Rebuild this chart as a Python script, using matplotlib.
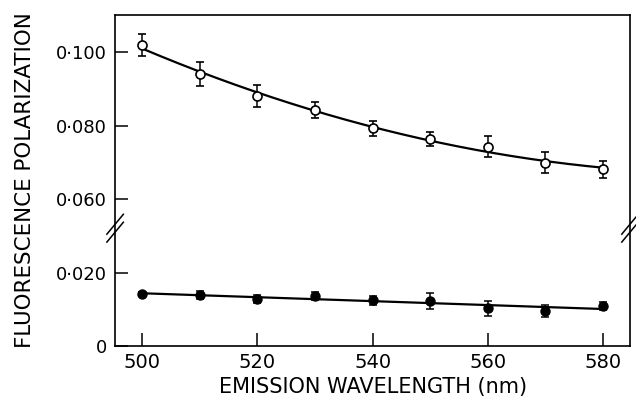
import numpy as np
import matplotlib.pyplot as plt

# emission wavelengths (nm)
wavelength = [500, 510, 520, 530, 540, 550, 560, 570, 580]

# open circles: upper series
pol_open = [0.1020, 0.0941, 0.0881, 0.0843, 0.0793, 0.0763, 0.0743, 0.0700, 0.0681]
err_open = [0.0030, 0.0032, 0.0030, 0.0022, 0.0020, 0.0019, 0.0028, 0.0029, 0.0023]

# filled circles: lower series
pol_filled = [0.0142, 0.0139, 0.0127, 0.0136, 0.0125, 0.0123, 0.0103, 0.0096, 0.0109]
err_filled = [0.0004, 0.0012, 0.0011, 0.0011, 0.0012, 0.0021, 0.0020, 0.0017, 0.0010]

ytick_vals = [0.0, 0.020, 0.060, 0.080, 0.100]
ytick_labels = ['0', '0·020', '0·060', '0·080', '0·100']

# the axis is broken between 0.020 and 0.060: upper values are shifted down
GAP = 0.020

def axis_y(v):
    v = np.asarray(v, dtype=float)
    return np.where(v >= 0.05, v - GAP, v)

plt.rcParams['font.family'] = 'DejaVu Sans'
fig = plt.figure(figsize=(6.36, 3.98), dpi=100)
ax = fig.add_axes([0.181, 0.1307, 0.8096, 0.8316])

x = np.array(wavelength, dtype=float)
xs = np.linspace(500, 580, 200)

# fitted curves
c2 = np.polyfit(x, pol_open, 2)
ax.plot(xs, axis_y(np.polyval(c2, xs)), color='black', lw=1.6, zorder=2)
c1 = np.polyfit(x, pol_filled, 1)
ax.plot(xs, axis_y(np.polyval(c1, xs)), color='black', lw=1.6, zorder=2)

ax.errorbar(x, axis_y(pol_open), yerr=err_open, fmt='o', ms=6.5,
            mfc='white', mec='black', mew=1.2, ecolor='black', elinewidth=1.1,
            capsize=2.6, capthick=1.1, zorder=3)
ax.errorbar(x, axis_y(pol_filled), yerr=err_filled, fmt='o', ms=6.5,
            mfc='black', mec='black', ecolor='black', elinewidth=1.1,
            capsize=2.6, capthick=1.1, zorder=3)

ax.set_xlim(495.3, 584.7)
ax.set_ylim(0, 0.0902)
ax.set_xticks([500, 520, 540, 560, 580])
ax.set_yticks(axis_y(ytick_vals))
ax.set_yticklabels(ytick_labels)
ax.tick_params(direction='in', length=9.5, width=1.1, labelsize=13, pad=6,
               top=False, right=False)
ax.tick_params(axis='x', pad=5, labelsize=14)
for sp in ax.spines.values():
    sp.set_linewidth(1.2)

ax.set_xlabel('EMISSION WAVELENGTH (nm)', fontsize=15, labelpad=4)
ax.set_ylabel('FLUORESCENCE POLARIZATION', fontsize=15.4, labelpad=15)

# break marks on both vertical spines
yb = 0.0321 / 0.0902
for xb in (0.0, 1.0):
    for dy in (-0.012, 0.012):
        ax.plot([xb - 0.016, xb + 0.016], [yb + dy - 0.03, yb + dy + 0.03],
                transform=ax.transAxes, color='black', lw=1.1, clip_on=False)

fig.savefig('out.png', dpi=100)
